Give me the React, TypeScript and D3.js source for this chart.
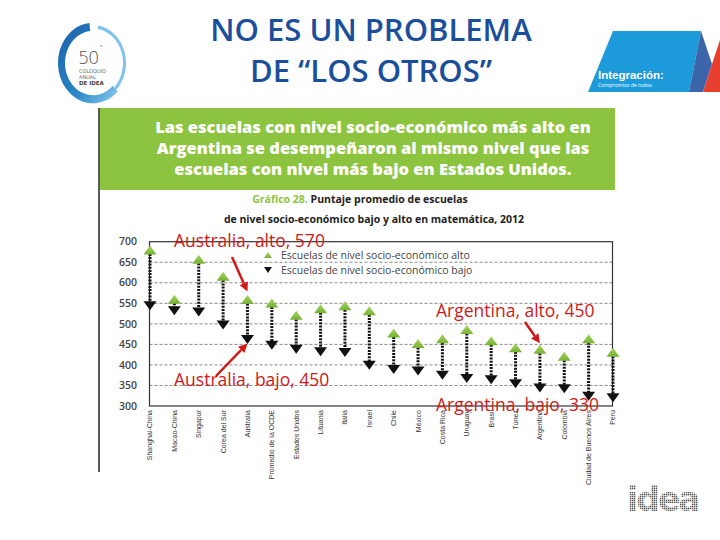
import React from "react";
import * as d3 from "d3";

const categories = [
  "Shanghai-China", "Macao-China", "Singapur", "Corea del Sur", "Australia",
  "Promedio de la OCDE", "Estados Unidos", "Lituania", "Italia", "Israel",
  "Chile", "México", "Costa Rica", "Uruguay", "Brasil", "Túnez", "Argentina",
  "Colombia", "Ciudad de Buenos Aires", "Perú",
];
const altoValues = [680, 560, 657, 616, 559, 551, 521, 537, 544, 532, 478, 452, 464, 486, 459, 442, 438, 421, 464, 431];
const bajoValues = [544, 532, 529, 497, 462, 448, 438, 432, 430, 399, 389, 385, 375, 367, 364, 354, 344, 342, 324, 320];
const yTicks = [300, 350, 400, 450, 500, 550, 600, 650, 700];
const gridTicks = [350, 400, 450, 500, 550, 600, 650];
const legendLabels = [
  "Escuelas de nivel socio-económico alto",
  "Escuelas de nivel socio-económico bajo",
];
const annotations = [
  { category: "Australia", series: "alto", label: "Australia, alto, 570" },
  { category: "Australia", series: "bajo", label: "Australia, bajo, 450" },
  { category: "Argentina", series: "alto", label: "Argentina, alto, 450" },
  { category: "Argentina", series: "bajo", label: "Argentina, bajo, 330" },
];
const titleLines = ["NO ES UN PROBLEMA", "DE “LOS OTROS”"];
const bannerLines = [
  "Las escuelas con nivel socio-económico más alto en",
  "Argentina se desempeñaron al mismo nivel que las",
  "escuelas con nivel más bajo en Estados Unidos.",
];

// layout (not data)
const annLayout = [
  { tx: 174, ty: 247, from: [232, 257], arrow: true, tipOff: [0, -8] },
  { tx: 174, ty: 386, from: [216, 376], arrow: true, tipOff: [0, 4] },
  { tx: 436, ty: 317, from: [525, 322], arrow: true, tipOff: [0, -6] },
  { tx: 436, ty: 411, from: null, arrow: false, tipOff: [0, 0] },
];

const GREEN = "#8cc43f";
const RED = "#d01919";
const BLUE = "#1b4f9b";

export default function App() {
  const x = d3.scalePoint<string>().domain(categories).range([150, 613]).padding(0);
  const y = d3.scaleLinear().domain([300, 700]).range([406, 241.7]);
  const left = 149.5, right = 612.5, top = y(700), bottom = y(300);

  const upTri = (cx: number, cy: number, w = 13, h = 9) =>
    `M${cx},${cy - h / 2}L${cx - w / 2},${cy + h / 2}L${cx + w / 2},${cy + h / 2}Z`;
  const downTri = (cx: number, cy: number, w = 13, h = 9) =>
    `M${cx - w / 2},${cy - h / 2}L${cx + w / 2},${cy - h / 2}L${cx},${cy + h / 2}Z`;

  const ringThick = d3.arc()({ innerRadius: 28, outerRadius: 35, startAngle: -0.1, endAngle: -Math.PI * 1.25 }) as string;
  const ringThin = d3.arc()({ innerRadius: 30, outerRadius: 33, startAngle: -Math.PI * 1.25, endAngle: -Math.PI * 1.95 }) as string;

  return (
    <svg width={720} height={540} style={{ position: "absolute", left: 0, top: 0, background: "#fff" }}
      fontFamily="'Open Sans', sans-serif">
      <defs>
        <linearGradient id="ringGrad" x1="0" y1="0" x2="1" y2="1">
          <stop offset="0" stopColor="#1d5fa8" />
          <stop offset="0.6" stopColor="#2a86c8" />
          <stop offset="1" stopColor="#8fcdf0" />
        </linearGradient>
        <linearGradient id="greenTri" x1="0" y1="0" x2="0" y2="1">
          <stop offset="0" stopColor="#a6d463" />
          <stop offset="1" stopColor="#76b132" />
        </linearGradient>
        <pattern id="dots" width="2" height="2" patternUnits="userSpaceOnUse">
          <rect width="2" height="2" fill="#fff" />
          <rect width="1.4" height="1.4" fill="#555" />
        </pattern>
      </defs>

      {/* Left logo */}
      <g>
        <g transform="translate(93,63) scale(1,1.15)">
          <path d={ringThick} fill="url(#ringGrad)" />
          <path d={ringThin} fill="#7fc3ea" />
        </g>
        <text x={78} y={64} fontSize={18} fontWeight={300} fill="#555" fontFamily="'DejaVu Sans', sans-serif" letterSpacing={-1.5}>50</text>
        <text x={100} y={49} fontSize={6} fill="#555">°</text>
        <text x={79} y={73} fontSize={5} fill="#666" fontFamily="'DejaVu Sans', sans-serif">COLOQUIO</text>
        <text x={79} y={78.5} fontSize={5} fill="#666" fontFamily="'DejaVu Sans', sans-serif">ANUAL</text>
        <text x={79} y={85} fontSize={5.5} fontWeight="bold" fill="#444" fontFamily="'DejaVu Sans', sans-serif">DE IDEA</text>
      </g>

      {/* Right logo */}
      <g>
        <path d="M613,31L701,31L689,92L588,92Z" fill="#1c9ad9" />
        <path d="M701,31L712,64L703,92L689,92Z" fill="#3d65a9" />
        <path d="M712,64L720,40L720,92L703,92Z" fill="#e8402f" />
        <text x={598} y={79} fontSize={11.5} fontWeight="bold" fill="#fff" fontFamily="'Liberation Sans Narrow', sans-serif">Integración:</text>
        <text x={598} y={87} fontSize={5.2} fill="#fff">Compromiso de todos</text>
      </g>

      {/* Title */}
      {titleLines.map((t, i) => (
        <text key={t} x={371} y={41 + i * 41} textAnchor="middle" fontSize={31} fontWeight={600} fill={BLUE}>{t}</text>
      ))}

      {/* Frame line of embedded image */}
      <line x1={99} x2={99} y1={108} y2={472} stroke="#222" strokeWidth={1.5} />

      {/* Banner */}
      <rect x={100} y={108} width={515} height={82} fill={GREEN} />
      {bannerLines.map((t, i) => (
        <text key={t} x={373} y={133 + i * 21} textAnchor="middle" fontSize={16.5} fontWeight={800} fill="#fff">{t}</text>
      ))}

      {/* Chart title */}
      <text x={360} y={203} textAnchor="middle" fontSize={10.5} fontWeight="bold" fill="#222">
        <tspan fill="#8cc43f">Gráfico 28. </tspan>Puntaje promedio de escuelas
      </text>
      <text x={374} y={223} textAnchor="middle" fontSize={10.5} fontWeight="bold" fill="#222">
        de nivel socio-económico bajo y alto en matemática, 2012
      </text>

      {/* Grid */}
      {gridTicks.map((t) => (
        <line key={t} x1={left} x2={right} y1={y(t)} y2={y(t)} stroke="#888" strokeWidth={1} strokeDasharray="3 2" />
      ))}
      <rect x={left} y={top} width={right - left} height={bottom - top} fill="none" stroke="#333" strokeWidth={1.2} />

      {/* Y ticks */}
      {yTicks.map((t) => (
        <text key={t} x={137} y={y(t)} dy="0.35em" textAnchor="end" fontSize={10.5} fontWeight={600} fill="#444">{t}</text>
      ))}

      {/* Legend */}
      <path d={upTri(268, 255, 8, 6)} fill="url(#greenTri)" />
      <text x={281} y={259} fontSize={10.5} fill="#444">{legendLabels[0]}</text>
      <path d={downTri(268, 270, 8, 6)} fill="#111" />
      <text x={281} y={273.5} fontSize={10.5} fill="#444">{legendLabels[1]}</text>

      {/* Marks */}
      {categories.map((c, i) => {
        const cx = x(c) as number;
        const yh = y(altoValues[i]);
        const yl = y(bajoValues[i]);
        return (
          <g key={c}>
            <line x1={cx} x2={cx} y1={yh + 4} y2={yl - 3} stroke="#111" strokeWidth={3} strokeDasharray="2 1.2" />
            <path d={upTri(cx, yh)} fill="url(#greenTri)" />
            <path d={downTri(cx, yl)} fill="#111" />
          </g>
        );
      })}

      {/* X labels */}
      {categories.map((c) => (
        <text key={c} transform={`translate(${x(c)},410) rotate(-90)`} dy="0.35em" textAnchor="end"
          fontSize={7} fill="#333" fontFamily="'Liberation Sans Narrow', sans-serif">{c}</text>
      ))}

      {/* Annotations */}
      {annotations.map((a, i) => {
        const L = annLayout[i];
        const idx = categories.indexOf(a.category);
        const v = a.series === "alto" ? altoValues[idx] : bajoValues[idx];
        const tipX = (x(a.category) as number) + L.tipOff[0];
        const tipY = y(v) + L.tipOff[1];
        let arrow = null;
        if (L.arrow && L.from) {
          const [fx, fy] = L.from;
          const ang = Math.atan2(tipY - fy, tipX - fx);
          const hl = 9, hw = 4.5;
          const bx = tipX - hl * Math.cos(ang), by = tipY - hl * Math.sin(ang);
          const px = -Math.sin(ang) * hw, py = Math.cos(ang) * hw;
          arrow = (
            <g>
              <line x1={fx} y1={fy} x2={bx} y2={by} stroke={RED} strokeWidth={2.5} />
              <path d={`M${tipX},${tipY}L${bx + px},${by + py}L${bx - px},${by - py}Z`} fill={RED} />
            </g>
          );
        }
        return (
          <g key={a.label}>
            {arrow}
            <text x={L.tx} y={L.ty} fontSize={17.5} fill={RED}>{a.label}</text>
          </g>
        );
      })}

      {/* idea logo */}
      <text x={627} y={511} fontSize={33} fontWeight="bold" fill="url(#dots)" fontFamily="'DejaVu Sans', sans-serif" letterSpacing={-2}>idea</text>
    </svg>
  );
}
